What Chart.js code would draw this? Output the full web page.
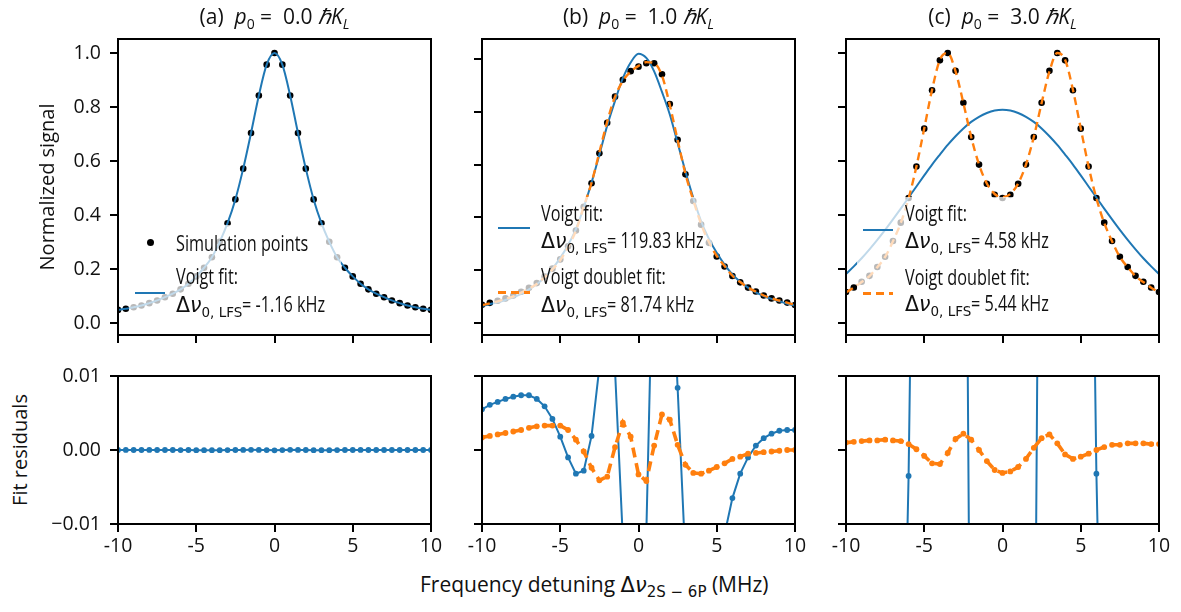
<!DOCTYPE html>
<html>
<head>
<meta charset="utf-8">
<script src="https://cdn.jsdelivr.net/npm/chart.js@4.4.1/dist/chart.umd.min.js"></script>
<style>
  body { margin: 0; width: 1181px; height: 612px; background: #fff; position: relative; overflow: hidden;
         font-family: 'Open Sans', sans-serif; color: #111; }
  canvas { position: absolute; }
  .t { position: absolute; white-space: nowrap; font-size: 19.5px; line-height: 24px; }
  .t sub { font-size: 14px; vertical-align: -5px; line-height: 0; }
  .title { text-align: center; width: 313px; top: 4px; font-size: 21px; }
  .rot { transform: rotate(-90deg); text-align: center; width: 300px; }
  .m { font-family: 'DejaVu Sans', sans-serif; }
  .box { position: absolute; background: rgba(255,255,255,0.72); border-radius: 4px; }
  .lt { position: absolute; white-space: nowrap; font-family: 'Open Sans', sans-serif;
        font-size: 21.5px; line-height: 24px; color: #111; }
  .lt .m { font-size: 20.5px; }
  .lt sub { font-family: 'DejaVu Sans', sans-serif; font-size: 13.5px; vertical-align: -5px; line-height: 0; }
  .sq { transform: scaleX(0.755); transform-origin: left center; }
  span.sq { display: inline-block; }
  .ls { position: absolute; height: 2px; }
  .ld { position: absolute; height: 2.5px; background: repeating-linear-gradient(to right, #ff7f0e 0 8px, transparent 8px 13px); }
</style>
</head>
<body>
<canvas id="ta" width="415" height="330" style="left:38px;top:25px"></canvas>
<canvas id="tb" width="355" height="330" style="left:462px;top:25px"></canvas>
<canvas id="tc" width="355" height="330" style="left:826px;top:25px"></canvas>
<canvas id="ra" width="415" height="202" style="left:38px;top:362px"></canvas>
<canvas id="rb" width="355" height="202" style="left:462px;top:362px"></canvas>
<canvas id="rc" width="355" height="202" style="left:826px;top:362px"></canvas>

<!-- titles and axis labels -->
<div class="t title" style="left:118px">(a)&nbsp; <i>p</i><sub>0</sub> =&nbsp; 0.0 <i>ℏK</i><sub><i>L</i></sub></div>
<div class="t title" style="left:482px">(b)&nbsp; <i>p</i><sub>0</sub> =&nbsp; 1.0 <i>ℏK</i><sub><i>L</i></sub></div>
<div class="t title" style="left:846px">(c)&nbsp; <i>p</i><sub>0</sub> =&nbsp; 3.0 <i>ℏK</i><sub><i>L</i></sub></div>
<div class="t rot" style="left:-103px;top:175px;font-size:20px">Normalized signal</div>
<div class="t rot" style="left:-130px;top:438px;font-size:20px">Fit residuals</div>
<div class="t" style="left:420px;top:572px;font-size:21px">Frequency detuning <span class="m">Δ<i>ν</i></span><sub class="m" style="font-size:15px">2S − 6P</sub> (MHz)</div>

<!-- legend (a) -->
<div class="box" style="left:129px;top:225px;width:212px;height:94px"></div>
<div style="position:absolute;left:146.5px;top:238.5px;width:7px;height:7px;border-radius:50%;background:#000"></div>
<div class="ls" style="left:135px;top:292px;width:30px;background:#1f77b4"></div>
<div class="lt sq" style="left:176px;top:231px">Simulation points</div>
<div class="lt sq" style="left:176px;top:264px">Voigt fit:</div>
<div class="lt" style="left:176px;top:292px"><span class="m">Δ<i>ν</i></span><sub>0, LFS</sub><span class="sq">= -1.16 kHz</span></div>

<!-- legend (b) -->
<div class="box" style="left:493px;top:197px;width:219px;height:122px"></div>
<div class="ls" style="left:498px;top:227px;width:32px;background:#1f77b4"></div>
<div class="ld" style="left:498px;top:291px;width:32px"></div>
<div class="lt sq" style="left:541px;top:201px">Voigt fit:</div>
<div class="lt" style="left:541px;top:228px"><span class="m">Δ<i>ν</i></span><sub>0, LFS</sub><span class="sq">= 119.83 kHz</span></div>
<div class="lt sq" style="left:541px;top:264px">Voigt doublet fit:</div>
<div class="lt" style="left:541px;top:292px"><span class="m">Δ<i>ν</i></span><sub>0, LFS</sub><span class="sq">= 81.74 kHz</span></div>

<!-- legend (c) -->
<div class="box" style="left:857px;top:197px;width:201px;height:122px"></div>
<div class="ls" style="left:863px;top:229px;width:30px;background:#1f77b4"></div>
<div class="ld" style="left:863px;top:292px;width:30px"></div>
<div class="lt sq" style="left:905px;top:201px">Voigt fit:</div>
<div class="lt" style="left:905px;top:228px"><span class="m">Δ<i>ν</i></span><sub>0, LFS</sub><span class="sq">= 4.58 kHz</span></div>
<div class="lt sq" style="left:905px;top:265px">Voigt doublet fit:</div>
<div class="lt" style="left:905px;top:291px"><span class="m">Δ<i>ν</i></span><sub>0, LFS</sub><span class="sq">= 5.44 kHz</span></div>

<script>
// detuning grid (MHz), 0.5 MHz steps
const detuning = [-10, -9.5, -9, -8.5, -8, -7.5, -7, -6.5, -6, -5.5, -5, -4.5, -4, -3.5, -3, -2.5, -2, -1.5, -1, -0.5,
                  0, 0.5, 1, 1.5, 2, 2.5, 3, 3.5, 4, 4.5, 5, 5.5, 6, 6.5, 7, 7.5, 8, 8.5, 9, 9.5, 10];

// (a) p0 = 0.0
const simA = [0.049, 0.053, 0.059, 0.065, 0.074, 0.084, 0.096, 0.109, 0.125, 0.146, 0.173, 0.205, 0.244, 0.301, 0.370, 0.458, 0.572, 0.704, 0.843, 0.957,
              1.000, 0.957, 0.843, 0.704, 0.572, 0.458, 0.370, 0.301, 0.244, 0.205, 0.173, 0.146, 0.125, 0.109, 0.096, 0.084, 0.074, 0.065, 0.059, 0.053, 0.049];
const voigtA = [0.049, 0.053, 0.059, 0.065, 0.074, 0.084, 0.096, 0.109, 0.125, 0.146, 0.173, 0.205, 0.244, 0.301, 0.370, 0.458, 0.572, 0.704, 0.843, 0.957,
                1.000, 0.957, 0.843, 0.704, 0.572, 0.458, 0.370, 0.301, 0.244, 0.205, 0.173, 0.146, 0.125, 0.109, 0.096, 0.084, 0.074, 0.065, 0.059, 0.053, 0.049];
const residVoigtA = [0, 0.00001, 0, 0, 0.00001, 0, 0, 0, -0.00001, 0, -0.00002, -0.00003, -0.00003, -0.00002, -0.00001, 0, 0.00001, 0.00002, 0.00001, -0.00001,
                     -0.00004, -0.00001, 0.00002, 0.00001, 0, -0.00002, -0.00003, -0.00002, -0.00001, 0, 0, 0.00001, 0, 0, 0, 0, 0, 0, 0, 0, 0];

// (b) p0 = 1.0
const simB = [0.068, 0.075, 0.083, 0.092, 0.103, 0.117, 0.132, 0.150, 0.175, 0.205, 0.240, 0.290, 0.350, 0.440, 0.529, 0.643, 0.759, 0.858, 0.922, 0.955,
              0.972, 0.985, 0.985, 0.943, 0.830, 0.694, 0.563, 0.462, 0.372, 0.303, 0.251, 0.213, 0.177, 0.153, 0.133, 0.118, 0.103, 0.092, 0.084, 0.076, 0.067];
const voigtB = [0.063, 0.070, 0.077, 0.086, 0.096, 0.109, 0.126, 0.146, 0.171, 0.205, 0.246, 0.295, 0.355, 0.437, 0.532, 0.638, 0.748, 0.842, 0.928, 0.988,
                1.021, 1.005, 0.954, 0.876, 0.790, 0.682, 0.574, 0.474, 0.385, 0.318, 0.265, 0.220, 0.183, 0.155, 0.133, 0.115, 0.101, 0.090, 0.081, 0.072, 0.065];
const doubletB = [0.066, 0.073, 0.081, 0.090, 0.100, 0.114, 0.129, 0.147, 0.172, 0.202, 0.237, 0.287, 0.349, 0.440, 0.531, 0.647, 0.763, 0.858, 0.918, 0.953,
                  0.975, 0.989, 0.985, 0.938, 0.826, 0.693, 0.565, 0.465, 0.375, 0.306, 0.253, 0.215, 0.178, 0.154, 0.133, 0.118, 0.103, 0.092, 0.084, 0.076, 0.067];
const residVoigtB = [0.0055, 0.0061, 0.0065, 0.0069, 0.0072, 0.0074, 0.0074, 0.0069, 0.0059, 0.0042, 0.0018, -0.0010, -0.0032, -0.0028, 0.0019, 0.0112, 0.0200, 0.0108, -0.0120, -0.0350,
                     -0.0450, -0.0112, 0.0340, 0.0400, 0.0300, 0.0084, -0.0149, -0.0300, -0.0320, -0.0280, -0.0200, -0.0114, -0.0065, -0.0032, -0.0010, 0.0006, 0.0016, 0.0022, 0.0026, 0.0027, 0.0027];
const residDoubletB = [0.0017, 0.0019, 0.0021, 0.0023, 0.0025, 0.0027, 0.0030, 0.0032, 0.0033, 0.0033, 0.0033, 0.0027, 0.0014, -0.0002, -0.0024, -0.0041, -0.0036, 0.0004, 0.0037, 0.0018,
                       -0.0033, -0.0042, 0.0006, 0.0048, 0.0041, 0.0007, -0.0020, -0.0031, -0.0032, -0.0028, -0.0023, -0.0018, -0.0012, -0.0009, -0.0005, -0.0004, -0.0003, -0.0002, -0.0001, 0.0000, 0.0000];

// (c) p0 = 3.0
const simC = [0.115, 0.132, 0.153, 0.175, 0.208, 0.246, 0.304, 0.372, 0.463, 0.580, 0.720, 0.862, 0.973, 1.000, 0.934, 0.816, 0.689, 0.587, 0.516, 0.475,
              0.463, 0.475, 0.516, 0.587, 0.689, 0.816, 0.934, 1.000, 0.973, 0.862, 0.720, 0.580, 0.463, 0.372, 0.304, 0.246, 0.208, 0.175, 0.153, 0.132, 0.115];
const voigtC = [0.182, 0.210, 0.240, 0.273, 0.308, 0.345, 0.384, 0.424, 0.465, 0.506, 0.547, 0.587, 0.624, 0.660, 0.692, 0.721, 0.745, 0.764, 0.778, 0.787,
                0.790, 0.787, 0.778, 0.764, 0.745, 0.721, 0.692, 0.660, 0.624, 0.587, 0.547, 0.506, 0.465, 0.424, 0.384, 0.345, 0.308, 0.273, 0.240, 0.210, 0.182];
const doubletC = [0.114, 0.131, 0.152, 0.174, 0.207, 0.245, 0.303, 0.371, 0.462, 0.580, 0.721, 0.864, 0.975, 1.000, 0.932, 0.815, 0.689, 0.587, 0.517, 0.478,
                  0.466, 0.478, 0.517, 0.587, 0.689, 0.815, 0.932, 1.000, 0.975, 0.864, 0.721, 0.580, 0.462, 0.371, 0.303, 0.245, 0.207, 0.174, 0.152, 0.131, 0.114];
const residVoigtC = [-0.067, -0.078, -0.087, -0.098, -0.100, -0.099, -0.080, -0.052, -0.0035, 0.074, 0.173, 0.273, 0.346, 0.340, 0.242, 0.095, -0.056, -0.177, -0.262, -0.312,
                     -0.327, -0.312, -0.262, -0.177, -0.056, 0.095, 0.242, 0.340, 0.346, 0.273, 0.173, 0.074, -0.0032, -0.052, -0.080, -0.099, -0.100, -0.098, -0.087, -0.078, -0.067];
const residDoubletC = [0.0010, 0.0011, 0.0012, 0.0013, 0.0013, 0.0014, 0.0013, 0.0012, 0.0008, 0.0001, -0.0008, -0.0018, -0.0019, -0.0004, 0.0015, 0.0022, 0.0014, 0.0000, -0.0015, -0.0027,
                       -0.0031, -0.0029, -0.0023, -0.0012, 0.0003, 0.0016, 0.0021, 0.0009, -0.0006, -0.0012, -0.0009, -0.0005, 0.0000, 0.0004, 0.0007, 0.0007, 0.0009, 0.0009, 0.0009, 0.0008, 0.0008];

// ticks
const xTicks = [-10, -5, 0, 5, 10];
const signalTicks = [0, 0.2, 0.4, 0.6, 0.8, 1.0];
const residTicks = [-0.01, 0, 0.01];
const residLabels = ['\u22120.01', '0.00', '0.01'];

const blue = '#1f77b4', orange = '#ff7f0e';
const tickFont = { family: 'Open Sans', size: 19.5 };

function pts(ys) {
  return detuning.map((x, i) => ({ x: x, y: ys[i] }));
}

// full box round each axes, drawn over the data like matplotlib spines
const frame = {
  id: 'frame',
  afterDatasetsDraw(chart) {
    const a = chart.chartArea, ctx = chart.ctx;
    ctx.save();
    ctx.strokeStyle = '#000';
    ctx.lineWidth = 2;
    ctx.strokeRect(a.left, a.top, a.right - a.left, a.bottom - a.top);
    ctx.restore();
  }
};

function panel(id, cfg) {
  new Chart(document.getElementById(id), {
    type: 'scatter',
    data: { datasets: cfg.datasets },
    options: {
      responsive: false,
      animation: false,
      devicePixelRatio: 1,
      layout: { padding: { left: 0, top: 14, right: 22, bottom: 0 } },
      plugins: { legend: { display: false }, tooltip: { enabled: false } },
      scales: {
        x: {
          type: 'linear', min: -10, max: 10,
          afterBuildTicks: s => { s.ticks = xTicks.map(v => ({ value: v })); },
          afterFit: s => { s.height = cfg.padB; s.paddingLeft = 0; s.paddingRight = 0; },
          ticks: {
            color: '#111', font: tickFont, padding: 3, maxRotation: 0, autoSkip: false,
            callback: v => cfg.showX ? (v < 0 ? '-' + (-v) : String(v)) : ''
          },
          grid: { drawOnChartArea: false, tickLength: 8, lineWidth: 2, color: '#000' },
          border: { display: false }
        },
        y: {
          type: 'linear', min: cfg.yMin, max: cfg.yMax,
          afterBuildTicks: s => { s.ticks = cfg.yTicks.map(v => ({ value: v })); },
          afterFit: s => { s.width = cfg.padL; s.paddingTop = 0; s.paddingBottom = 0; },
          ticks: {
            color: '#111', font: tickFont, padding: 9, autoSkip: false,
            callback: (v, i) => cfg.showY ? cfg.yLabel(v, i) : ''
          },
          grid: { drawOnChartArea: false, tickLength: 8, lineWidth: 2, color: '#000' },
          border: { display: false }
        }
      }
    },
    plugins: [frame]
  });
}

function simDots(ys) {
  return { data: pts(ys), pointRadius: 3.3, pointBackgroundColor: '#000', pointBorderWidth: 0, order: 3 };
}
function voigtLine(ys) {
  return { data: pts(ys), showLine: true, pointRadius: 0, borderColor: blue, borderWidth: 2,
           cubicInterpolationMode: 'monotone', order: 2 };
}
function doubletLine(ys) {
  return { data: pts(ys), showLine: true, pointRadius: 0, borderColor: orange, borderWidth: 2.4,
           borderDash: [8, 5], cubicInterpolationMode: 'monotone', order: 1 };
}
function residVoigt(ys) {
  return { data: pts(ys), showLine: true, borderColor: blue, borderWidth: 2, pointRadius: 2.9,
           pointBackgroundColor: blue, pointBorderWidth: 0, order: 2 };
}
function residDoublet(ys) {
  return { data: pts(ys), showLine: true, borderColor: orange, borderWidth: 3.6, borderDash: [10, 6],
           pointRadius: 2.9, pointBackgroundColor: orange, pointBorderWidth: 0, order: 1 };
}

const signalLabel = v => v.toFixed(1);
const residLabel = (v, i) => residLabels[i];

panel('ta', { padL: 80, padB: 20, showX: false, showY: true, yMin: -0.044, yMax: 1.052, yTicks: signalTicks, yLabel: signalLabel,
              datasets: [voigtLine(voigtA), simDots(simA)] });
panel('tb', { padL: 20, padB: 20, showX: false, showY: false, yMin: -0.047, yMax: 1.077, yTicks: signalTicks, yLabel: signalLabel,
              datasets: [doubletLine(doubletB), voigtLine(voigtB), simDots(simB)] });
panel('tc', { padL: 20, padB: 20, showX: false, showY: false, yMin: -0.044, yMax: 1.052, yTicks: signalTicks, yLabel: signalLabel,
              datasets: [doubletLine(doubletC), voigtLine(voigtC), simDots(simC)] });

panel('ra', { padL: 80, padB: 40, showX: true, showY: true, yMin: -0.01, yMax: 0.01, yTicks: residTicks, yLabel: residLabel,
              datasets: [residVoigt(residVoigtA)] });
panel('rb', { padL: 20, padB: 40, showX: true, showY: false, yMin: -0.01, yMax: 0.01, yTicks: residTicks, yLabel: residLabel,
              datasets: [residDoublet(residDoubletB), residVoigt(residVoigtB)] });
panel('rc', { padL: 20, padB: 40, showX: true, showY: false, yMin: -0.01, yMax: 0.01, yTicks: residTicks, yLabel: residLabel,
              datasets: [residDoublet(residDoubletC), residVoigt(residVoigtC)] });
</script>
</body>
</html>
